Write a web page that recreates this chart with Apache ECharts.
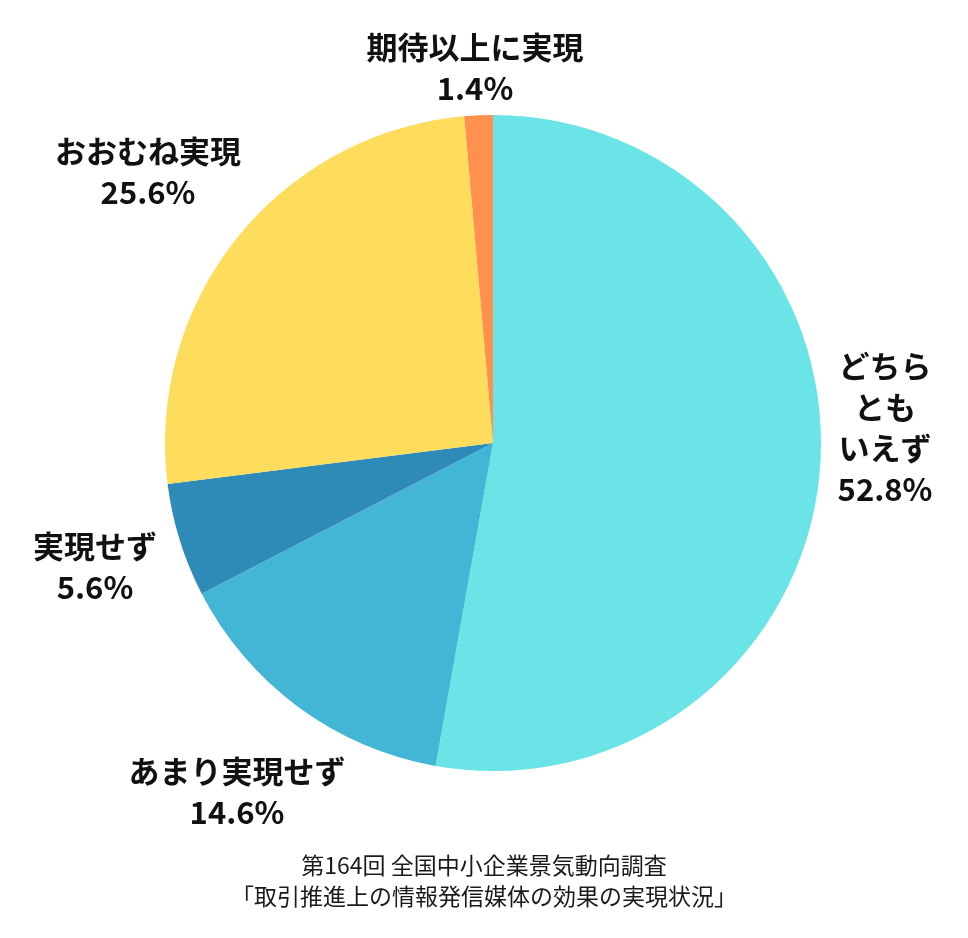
<!DOCTYPE html>
<html><head><meta charset="utf-8">
<script src="https://cdn.jsdelivr.net/npm/echarts@6/dist/echarts.min.js"></script>
<style>html,body{margin:0;padding:0;background:#fff}#c{width:968px;height:938px}</style>
</head><body><div id="c"></div>
<script>
var categories = ['どちら\nとも\nいえず', 'あまり実現せず', '実現せず', 'おおむね実現', '期待以上に実現'];
var values = [52.8, 14.6, 5.6, 25.6, 1.4];
var colors = ['#6BE4E8', '#42B6D4', '#2E8BB8', '#FEDC5C', '#FF914D'];
var labelPos = [[885, 428], [237, 792], [95, 567], [148, 172], [475, 68]];
var footnote = '第164回 全国中小企業景気動向調査\n「取引推進上の情報発信媒体の効果の実現状況」';

var chart = echarts.init(document.getElementById('c'), null, {renderer: 'canvas'});
chart.setOption({
  backgroundColor: '#fff',
  animation: false,
  textStyle: {fontFamily: '"Noto Sans CJK JP", "Noto Sans", sans-serif'},
  title: {
    text: footnote,
    left: 'center',
    top: 845,
    textStyle: {fontSize: 23, fontWeight: 'normal', color: '#1a1a1a', lineHeight: 31,
      fontFamily: '"Noto Sans CJK JP", sans-serif'}
  },
  series: [{
    type: 'pie',
    center: [493, 443],
    radius: [0, 328],
    startAngle: 90,
    clockwise: true,
    data: categories.map(function (c, i) {
      return {name: c, value: values[i], itemStyle: {color: colors[i]}};
    }),
    label: {
      show: true,
      position: 'outside',
      overflow: 'none',
      formatter: function (p) { return p.name + '\n' + p.value.toFixed(1) + '%'; },
      fontSize: 31,
      fontWeight: 'bold',
      color: '#111',
      lineHeight: 41,
      align: 'center',
      fontFamily: '"Noto Sans CJK JP", sans-serif'
    },
    labelLine: {show: false},
    labelLayout: function (p) {
      var pos = labelPos[p.dataIndex];
      return {x: pos[0], y: pos[1], align: 'center', verticalAlign: 'middle'};
    }
  }]
});
</script></body></html>
